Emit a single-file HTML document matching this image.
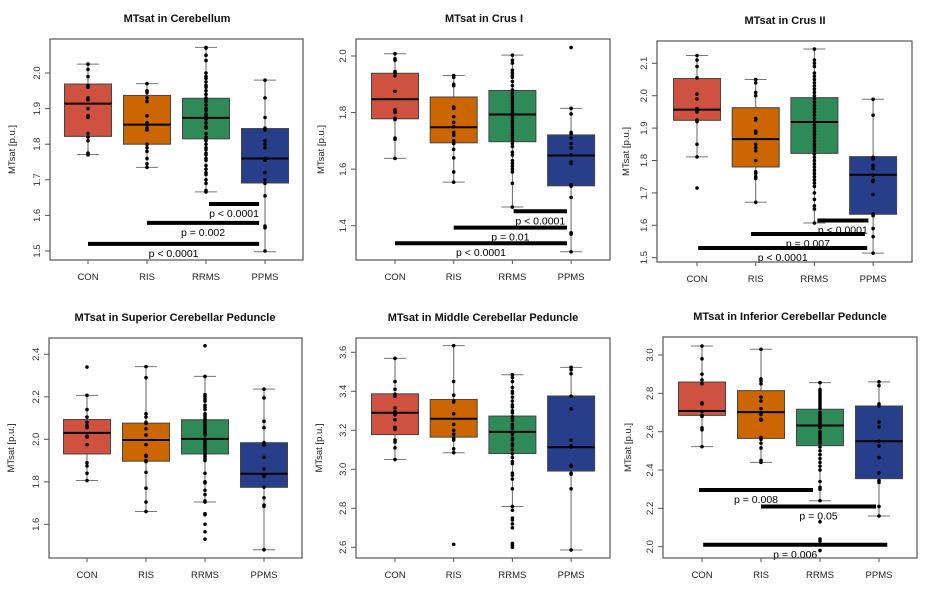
<!DOCTYPE html>
<html><head><meta charset="utf-8">
<style>
html,body{margin:0;padding:0;background:#fff;}
svg{display:block;font-family:"Liberation Sans",sans-serif;}
</style></head>
<body>
<svg id="fig" width="936" height="598" viewBox="0 0 936 598"></svg>
<script>
const categories = ["CON","RIS","RRMS","PPMS"];
const colors = ["#cf5140","#cc6600","#2e8a57","#273f8b"];
const titles = ["MTsat in Cerebellum","MTsat in Crus I","MTsat in Crus II","MTsat in Superior Cerebellar Peduncle","MTsat in Middle Cerebellar Peduncle","MTsat in Inferior Cerebellar Peduncle"];
const yTicks = [[1.5,1.6,1.7,1.8,1.9,2.0],[1.4,1.6,1.8,2.0],[1.5,1.6,1.7,1.8,1.9,2.0,2.1],[1.6,1.8,2.0,2.2,2.4],[2.6,2.8,3.0,3.2,3.4,3.6],[2.0,2.2,2.4,2.6,2.8,3.0]];
const yTickLabels = [["1.5","1.6","1.7","1.8","1.9","2.0"],["1.4","1.6","1.8","2.0"],["1.5","1.6","1.7","1.8","1.9","2.0","2.1"],["1.6","1.8","2.0","2.2","2.4"],["2.6","2.8","3.0","3.2","3.4","3.6"],["2.0","2.2","2.4","2.6","2.8","3.0"]];
// box stats: [lowWhisker, q1, median, q3, highWhisker] per group
const boxStats = [
 [[1.771,1.822,1.914,1.969,2.025],[1.735,1.80,1.855,1.937,1.97],[1.666,1.815,1.874,1.929,2.072],[1.498,1.691,1.76,1.844,1.98]],
 [[1.638,1.778,1.847,1.939,2.008],[1.554,1.693,1.748,1.855,1.931],[1.466,1.697,1.793,1.878,2.003],[1.308,1.541,1.648,1.721,1.815]],
 [[1.811,1.924,1.957,2.053,2.124],[1.671,1.78,1.866,1.963,2.05],[1.607,1.822,1.919,1.994,2.144],[1.514,1.634,1.756,1.812,1.989]],
 [[1.806,1.931,2.03,2.093,2.207],[1.66,1.897,1.997,2.076,2.342],[1.705,1.931,2.002,2.092,2.296],[1.48,1.774,1.838,1.984,2.236]],
 [[3.05,3.178,3.29,3.387,3.569],[3.085,3.165,3.259,3.358,3.634],[2.809,3.081,3.192,3.273,3.485],[2.586,2.991,3.113,3.376,3.523]],
 [[2.522,2.685,2.708,2.859,3.047],[2.44,2.565,2.702,2.814,3.03],[2.24,2.527,2.632,2.717,2.856],[2.16,2.355,2.55,2.734,2.86]]
];
// individual observations per panel per group
const points = [
 [[2.025,2.01,1.99,1.965,1.96,1.93,1.925,1.90,1.88,1.875,1.83,1.82,1.81,1.775,1.77],
  [1.97,1.95,1.945,1.93,1.92,1.88,1.86,1.855,1.845,1.84,1.80,1.79,1.78,1.76,1.745,1.735],
  [2.072,2.07,2.05,2.035,2.0,1.99,1.985,1.975,1.965,1.96,1.95,1.94,1.93,1.925,1.92,1.91,1.90,1.895,1.885,1.88,1.875,1.87,1.86,1.85,1.845,1.83,1.82,1.815,1.81,1.80,1.79,1.785,1.775,1.77,1.76,1.755,1.74,1.73,1.72,1.715,1.70,1.69,1.67,1.666],
  [1.98,1.93,1.875,1.845,1.84,1.81,1.80,1.79,1.76,1.755,1.72,1.70,1.69,1.655,1.57,1.565,1.50]],
 [[2.008,1.99,1.985,1.945,1.94,1.93,1.875,1.81,1.805,1.80,1.78,1.775,1.71,1.705,1.638],
  [1.931,1.925,1.90,1.895,1.82,1.815,1.785,1.765,1.75,1.73,1.72,1.70,1.69,1.67,1.64,1.59,1.554],
  [2.003,1.985,1.975,1.95,1.94,1.93,1.925,1.91,1.895,1.88,1.87,1.86,1.85,1.84,1.83,1.82,1.81,1.80,1.79,1.78,1.77,1.76,1.75,1.74,1.73,1.72,1.71,1.70,1.69,1.68,1.66,1.65,1.63,1.62,1.61,1.60,1.59,1.55,1.466],
  [2.03,1.815,1.795,1.73,1.725,1.71,1.69,1.675,1.65,1.625,1.62,1.545,1.54,1.50,1.375,1.37,1.308]],
 [[2.124,2.11,2.09,2.055,2.005,1.99,1.96,1.955,1.95,1.925,1.92,1.85,1.811,1.715],
  [2.05,2.04,2.01,2.0,1.93,1.925,1.89,1.885,1.85,1.84,1.83,1.80,1.765,1.76,1.75,1.745,1.671],
  [2.144,2.11,2.1,2.09,2.07,2.06,2.05,2.04,2.03,2.02,2.01,2.0,1.99,1.98,1.97,1.96,1.95,1.94,1.93,1.92,1.91,1.9,1.89,1.88,1.87,1.86,1.85,1.84,1.83,1.82,1.81,1.80,1.79,1.78,1.77,1.76,1.75,1.74,1.73,1.72,1.70,1.68,1.66,1.65,1.607],
  [1.989,1.94,1.81,1.805,1.785,1.775,1.755,1.74,1.735,1.695,1.635,1.63,1.59,1.565,1.514]],
 [[2.34,2.207,2.14,2.105,2.08,2.065,2.055,2.015,2.01,1.975,1.89,1.875,1.84,1.806],
  [2.342,2.29,2.12,2.105,2.08,2.075,2.05,2.02,1.975,1.925,1.92,1.90,1.895,1.845,1.77,1.705,1.66],
  [2.44,2.296,2.21,2.2,2.19,2.18,2.16,2.15,2.14,2.12,2.11,2.1,2.09,2.08,2.07,2.06,2.05,2.04,2.03,2.02,2.0,1.99,1.98,1.97,1.96,1.95,1.94,1.93,1.92,1.91,1.90,1.84,1.80,1.795,1.76,1.74,1.71,1.705,1.65,1.645,1.60,1.565,1.53],
  [2.236,2.195,2.085,2.055,1.985,1.975,1.915,1.86,1.83,1.825,1.775,1.725,1.69,1.685,1.48]],
 [[3.569,3.45,3.41,3.385,3.375,3.315,3.295,3.28,3.255,3.215,3.205,3.15,3.14,3.11,3.05],
  [3.634,3.45,3.38,3.35,3.345,3.285,3.23,3.2,3.18,3.16,3.15,3.105,3.085,2.615],
  [3.485,3.47,3.45,3.42,3.40,3.39,3.37,3.35,3.33,3.32,3.30,3.29,3.27,3.26,3.25,3.23,3.22,3.21,3.19,3.18,3.16,3.15,3.13,3.12,3.10,3.08,3.06,3.04,3.03,2.98,2.97,2.95,2.90,2.809,2.79,2.75,2.74,2.72,2.70,2.62,2.61,2.60],
  [3.523,3.51,3.49,3.375,3.31,3.15,3.12,3.115,3.02,3.015,2.98,2.975,2.90,2.586]],
 [[3.047,2.98,2.9,2.87,2.85,2.75,2.745,2.705,2.685,2.68,2.62,2.61,2.522],
  [3.03,2.875,2.865,2.85,2.78,2.76,2.72,2.70,2.69,2.665,2.66,2.57,2.56,2.54,2.515,2.45,2.44],
  [2.856,2.82,2.81,2.80,2.79,2.78,2.77,2.76,2.75,2.74,2.73,2.72,2.70,2.69,2.68,2.67,2.66,2.65,2.64,2.63,2.62,2.60,2.59,2.58,2.57,2.56,2.55,2.54,2.52,2.50,2.48,2.46,2.44,2.42,2.40,2.34,2.31,2.30,2.24,2.13,2.04,2.03,1.98],
  [2.86,2.84,2.745,2.735,2.65,2.625,2.55,2.525,2.465,2.385,2.345,2.335,2.21,2.16]]
];
// significance bars: [fromGroup, toGroup, yValue, label]
const sigBars = [
 [[2.05,2.9,1.632,"p < 0.0001"],[1.0,2.9,1.579,"p = 0.002"],[0,2.9,1.52,"p < 0.0001"]],
 [[2.02,2.93,1.451,"p < 0.0001"],[1.0,2.93,1.393,"p = 0.01"],[0,2.93,1.338,"p < 0.0001"]],
 [[2.05,2.92,1.615,"p < 0.0001"],[0.92,2.86,1.573,"p = 0.007"],[0.02,2.9,1.53,"p < 0.0001"]],
 [],
 [],
 [[-0.05,1.88,2.296,"p = 0.008"],[1.0,2.95,2.21,"p = 0.05"],[0.02,3.14,2.01,"p = 0.006"]]
];
// layout: plot rect + y-calibration (two reference values and pixel rows) + x of first group and spacing
const layout = [
 {l:50,r:303,t:39,b:260,v0:1.5,p0:251,v1:2.0,p1:73,c0:88,sp:59,tx:177,lab:15},
 {l:356,r:610,t:39,b:260,v0:1.4,p0:225.7,v1:2.0,p1:56,c0:395,sp:58.7,tx:484,lab:324},
 {l:657,r:912,t:41,b:262,v0:1.5,p0:257.7,v1:2.1,p1:63.3,c0:697,sp:58.7,tx:785,lab:629},
 {l:49,r:302,t:338,b:558,v0:1.6,p0:524.3,v1:2.4,p1:354.3,c0:87,sp:59,tx:175,lab:14},
 {l:356,r:610,t:338,b:558,v0:2.6,p0:547.3,v1:3.6,p1:352.3,c0:395,sp:58.7,tx:483,lab:322},
 {l:663,r:917,t:337,b:558,v0:2.0,p0:546.7,v1:3.0,p1:355,c0:702,sp:59,tx:790,lab:631}
];
const NS="http://www.w3.org/2000/svg";
const svg=document.getElementById("fig");
function mk(tag,attrs,parent){const e=document.createElementNS(NS,tag);for(const k in attrs)e.setAttribute(k,attrs[k]);(parent||svg).appendChild(e);return e;}
layout.forEach((L,pi)=>{
  const g=mk("g",{});
  
  
  const y=v=>L.p0+(v-L.v0)*(L.p1-L.p0)/(L.v1-L.v0);
  const x=i=>L.c0+i*L.sp;
  const t=mk("text",{x:L.tx,y:L.t-17,"text-anchor":"middle","font-size":"11","font-weight":"bold",fill:"#111"},g);
  t.textContent=titles[pi];
  
  
  const yl=mk("text",{transform:`translate(${L.lab},${(L.t+L.b)/2}) rotate(-90)`,"text-anchor":"middle","font-size":"9.5",fill:"#222"},g);
  yl.textContent="MTsat [p.u.]";
  
  
  yTicks[pi].forEach((v,k)=>{
    const py=y(v);
    mk("line",{x1:L.l-5,x2:L.l,y1:py,y2:py,stroke:"#555","stroke-width":1},g);
    const tl=mk("text",{transform:`translate(${L.l-10},${py}) rotate(-90)`,"text-anchor":"middle","font-size":"9.5",fill:"#333"},g);
    tl.textContent=yTickLabels[pi][k];
    
    
  });
  categories.forEach((c,i)=>{
    const cx=x(i);
    mk("line",{x1:cx,x2:cx,y1:L.b,y2:L.b+4,stroke:"#555"},g);
    const xl=mk("text",{x:cx,y:L.b+20,"text-anchor":"middle","font-size":"9.5",fill:"#222"},g);
    xl.textContent=c;
    
    
    const s=boxStats[pi][i];
    const bg=mk("g",{},g);
    
    
    mk("line",{x1:cx,x2:cx,y1:y(s[0]),y2:y(s[4]),stroke:"#666","stroke-width":1},bg);
    mk("line",{x1:cx-11,x2:cx+11,y1:y(s[0]),y2:y(s[0]),stroke:"#777","stroke-width":1},bg);
    mk("line",{x1:cx-11,x2:cx+11,y1:y(s[4]),y2:y(s[4]),stroke:"#777","stroke-width":1},bg);
    mk("rect",{x:cx-23.5,y:y(s[3]),width:47,height:y(s[1])-y(s[3]),fill:colors[i],stroke:"#444","stroke-width":1},bg);
    mk("line",{x1:cx-23.5,x2:cx+23.5,y1:y(s[2]),y2:y(s[2]),stroke:"#000","stroke-width":2},bg);
    points[pi][i].forEach(v=>{
      const d=mk("circle",{cx:cx,cy:y(v),r:1.8,fill:"#000"},bg);
      
      
    });
  });
  sigBars[pi].forEach(b=>{
    const x1=x(b[0]),x2=x(b[1]),py=y(b[2]);
    const l=mk("line",{x1:x1,x2:x2,y1:py,y2:py,stroke:"#000","stroke-width":4},g);
    
    
    const tx=mk("text",{x:(x1+x2)/2,y:py+13,"text-anchor":"middle","font-size":"10.5",fill:"#000"},g);
    tx.textContent=b[3];
    
    
  });
  const fr=mk("rect",{x:L.l,y:L.t,width:L.r-L.l,height:L.b-L.t,fill:"none",stroke:"#555","stroke-width":1.2},g);
  
  
});
</script>
</body></html>
